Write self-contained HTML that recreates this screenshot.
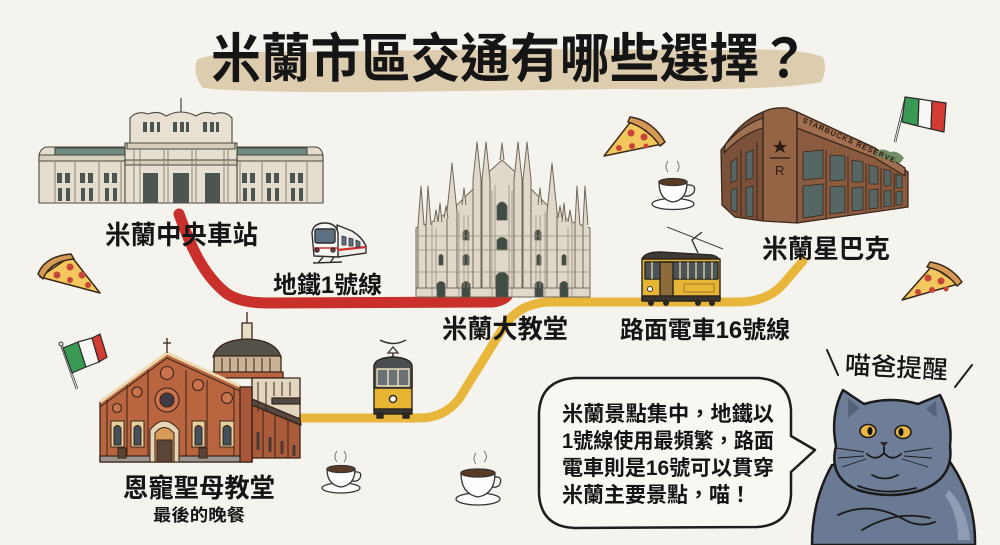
<!DOCTYPE html>
<html><head><meta charset="utf-8">
<style>
html,body{margin:0;padding:0;background:#f5f3ed;width:1000px;height:545px;overflow:hidden}
svg{display:block}
text{font-family:"Liberation Sans","Noto Sans CJK TC",sans-serif;fill:#151515}
</style></head><body>
<svg width="1000" height="545" viewBox="0 0 1000 545" xmlns="http://www.w3.org/2000/svg">
<rect width="1000" height="545" fill="#f5f3ed"/>

<!-- Title brush -->
<path d="M197,60 Q215,50 300,52 L520,49 L740,50 Q800,48 823,57 Q828,70 821,82 Q780,91 620,89 L380,92 Q250,93 203,88 Q192,75 197,60 Z" fill="#dbc8a6" opacity="0.9"/>
<text x="211" y="77" font-size="53" font-weight="700" textLength="598" lengthAdjust="spacingAndGlyphs">米蘭市區交通有哪些選擇？</text>

<!-- Red metro line -->
<path d="M179,214 Q184,228 191,244 Q205,276 226,293 Q240,303 268,303 L492,302 Q502,301 507,296" fill="none" stroke="#c9302b" stroke-width="11" stroke-linecap="round"/>
<!-- Yellow tram line -->
<path d="M302,418 L420,418 Q444,418 459,399 L503,328 Q518,303 550,302 L738,302 Q768,302 784,283 L803,261" fill="none" stroke="#e8b63a" stroke-width="9" stroke-linecap="round"/>

<!-- Central station -->
<g stroke="#4a463e" stroke-width="1.1" stroke-linejoin="round">
  <path d="M39,203 L39,156 Q40,148 47,147 L127,147 L127,203 Z" fill="#e4ddce"/>
  <path d="M237,203 L237,147 L316,147 Q322,148 323,156 L323,203 Z" fill="#e4ddce"/>
  <rect x="55" y="148" width="72" height="7" fill="#6f8c83"/>
  <rect x="237" y="148" width="70" height="7" fill="#6f8c83"/>
  <rect x="39" y="155" width="88" height="6" fill="#d8d0bf"/>
  <rect x="237" y="155" width="86" height="6" fill="#d8d0bf"/>
  <rect x="125" y="143" width="112" height="60" fill="#e7e0d2"/>
  <path d="M130,143 L130,118 Q137,110 148,114 Q158,110 166,116 Q181,108 196,116 Q205,110 214,114 Q225,110 232,118 L232,143 Z" fill="#e8e1d3"/>
  <rect x="127" y="143" width="108" height="6" fill="#d6cdbb"/>
  <rect x="125" y="160" width="112" height="5" fill="#d6cdbb"/>
</g>
<line x1="181" y1="98" x2="181" y2="112" stroke="#4a463e" stroke-width="1.2"/>
<g fill="#4d5552">
  <rect x="143" y="173" width="15" height="30"/><rect x="173" y="173" width="16" height="30"/><rect x="205" y="173" width="15" height="30"/>
  <rect x="143" y="122" width="4" height="10"/><rect x="150" y="122" width="4" height="10"/><rect x="157" y="122" width="3" height="10"/>
  <rect x="173" y="122" width="4" height="10"/><rect x="180" y="122" width="4" height="10"/><rect x="186" y="122" width="3" height="10"/>
  <rect x="203" y="122" width="4" height="10"/><rect x="210" y="122" width="4" height="10"/><rect x="216" y="122" width="3" height="10"/>
  <rect x="57" y="173" width="5" height="10"/><rect x="65" y="173" width="5" height="10"/><rect x="58" y="188" width="4" height="13"/><rect x="66" y="188" width="4" height="13"/>
  <rect x="80" y="173" width="5" height="10"/><rect x="88" y="173" width="5" height="10"/><rect x="81" y="188" width="4" height="13"/><rect x="89" y="188" width="4" height="13"/>
  <rect x="104" y="173" width="5" height="10"/><rect x="112" y="173" width="5" height="10"/><rect x="105" y="188" width="4" height="13"/><rect x="113" y="188" width="4" height="13"/>
  <rect x="242" y="173" width="5" height="10"/><rect x="250" y="173" width="5" height="10"/><rect x="243" y="188" width="4" height="13"/><rect x="251" y="188" width="4" height="13"/>
  <rect x="266" y="173" width="5" height="10"/><rect x="274" y="173" width="5" height="10"/><rect x="267" y="188" width="4" height="13"/><rect x="275" y="188" width="4" height="13"/>
  <rect x="290" y="173" width="5" height="10"/><rect x="298" y="173" width="5" height="10"/><rect x="291" y="188" width="4" height="13"/><rect x="299" y="188" width="4" height="13"/>
</g>
<g stroke="#8a8373" stroke-width="1" fill="none">
  <path d="M134,150 V203 M164,150 V203 M196,150 V203 M228,150 V203 M140,150 V203 M168,150 V203 M192,150 V203 M224,150 V203"/>
  <path d="M55,161 V203 M75,161 V203 M99,161 V203 M121,161 V203 M240,161 V203 M262,161 V203 M286,161 V203 M307,161 V203"/>
</g>

<!-- Metro train -->
<g stroke="#2e2e2e" stroke-width="1.4" stroke-linejoin="round">
  <path d="M337,225 L352,231 Q362,237 366,246 L366,253 L338,257 Z" fill="#f2f1ee"/>
  <path d="M314,256 L312,233 Q313,223 325,223 Q336,223 338,233 L338,257 Z" fill="#f6f6f4"/>
  <rect x="315" y="229" width="20" height="14" rx="2" fill="#5e7182"/>
  <path d="M338,250 L366,247" stroke="#d2302a" stroke-width="2.2"/>
  <path d="M313,248 L338,248" stroke="#d2302a" stroke-width="1.6"/>
  <circle cx="317" cy="250" r="2" fill="#b83030"/><circle cx="333" cy="250" r="2" fill="#b83030"/>
  <path d="M342,236 L346,237 L346,245 L342,245 Z M349,238 L353,239 L353,246 L349,246 Z M356,240 L360,242 L360,247 L356,247 Z" fill="#5e7182" stroke-width="0.8"/>
  <path d="M318,263 L323,257 M330,263 L334,257 M313,263 L342,262" fill="none"/>
</g>

<!-- Pizza left -->
<g stroke="#3a2818" stroke-width="1.5" stroke-linejoin="round">
  <path d="M40,277 L71,256 L100,293 Z" fill="#f1c75e"/>
  <path d="M38,274 Q45,256 71,254 L74,259 Q50,261 43,279 Z" fill="#d59a55"/>
</g>
<g fill="#c8453a"><circle cx="70" cy="267" r="3.5"/><circle cx="57" cy="275" r="3.5"/><circle cx="82" cy="275" r="3.5"/><circle cx="70" cy="280" r="3"/><circle cx="88" cy="285" r="3"/></g>

<!-- Duomo -->
<g stroke="#6f675a" stroke-width="1" stroke-linejoin="round" fill="#e0d8ca">
  <path d="M416,297 L416,228 L432,222 L452,210 L472,190 L480,180 L502,160 L524,180 L532,190 L552,210 L572,222 L590,228 L590,297 Z"/>
  <path d="M418,297 V225 L421,186 L424,225 M426,297 V225 L428,186 L431,225"/>
  <path d="M575,297 V225 L577,186 L580,225 M583,297 V225 L585,186 L588,225"/>
  <path d="M447,297 V212 L452,163 L457,212 V297"/>
  <path d="M547,297 V212 L552,163 L557,212 V297"/>
  <path d="M473,297 V180 L477,142 L481,180 V297 M482,297 V180 L486,142 L490,180 V297"/>
  <path d="M514,297 V180 L518,142 L522,180 V297 M523,297 V180 L527,142 L531,180 V297"/>
  <path d="M500,160 L502,143 L504,160"/>
  <path d="M438,222 L440,203 L442,222 M462,205 L464,188 L466,205 M538,205 L540,188 L542,205 M562,222 L564,203 L566,222"/>
  <path d="M434,222 L436,210 L438,222 M444,218 L446,206 L448,218 M558,218 L560,206 L562,218 M568,222 L570,210 L572,222" />
  <rect x="416" y="288" width="174" height="9"/>
</g>
<g fill="#3f4d45" stroke="#5d574c" stroke-width="0.8">
  <path d="M496,297 V276 Q502,268 508,276 V297 Z"/>
  <path d="M437,297 V284 Q441,279 445,284 V297 Z M462,297 V284 Q466,279 470,284 V297 Z M535,297 V284 Q539,279 543,284 V297 Z M560,297 V284 Q564,279 568,284 V297 Z"/>
  <path d="M497,220 V206 Q502,198 507,206 V220 Z"/>
  <path d="M497,250 V240 Q502,235 507,240 V250 Z"/>
  <path d="M463,240 V232 Q466,228 469,232 V240 Z M535,240 V232 Q538,228 541,232 V240 Z"/>
  <path d="M439,265 V256 Q441,253 443,256 V265 Z M463,265 V256 Q466,253 469,256 V265 Z M537,265 V256 Q539,253 541,256 V265 Z M562,265 V256 Q564,253 566,256 V265 Z"/>
</g>
<g stroke="#978d7d" stroke-width="0.8" fill="none">
  <path d="M416,250 H590 M416,272 H590 M416,236 H590 M432,222 V297 M459,212 V297 M545,212 V297 M572,222 V297 M492,190 V297 M512,190 V297"/>
  <path d="M436,228 V288 M464,215 V288 M468,215 V288 M536,215 V288 M540,215 V288 M568,228 V288 M495,185 V288 M509,185 V288"/>
</g>

<!-- Pizza top -->
<g stroke="#3a2818" stroke-width="1.5" stroke-linejoin="round">
  <path d="M604,156 L632,120 L662,144 Z" fill="#f1c75e"/>
  <path d="M630,117 Q652,120 665,142 L660,146 Q648,128 628,122 Z" fill="#d59a55"/>
</g>
<g fill="#c8453a"><circle cx="631" cy="133" r="3.5"/><circle cx="644" cy="137" r="3.5"/><circle cx="619" cy="148" r="3"/><circle cx="632" cy="146" r="3"/><circle cx="646" cy="146" r="2.5"/></g>

<!-- Coffee top -->
<g stroke="#333" stroke-width="1.3">
  <ellipse cx="673" cy="204" rx="21" ry="5.5" fill="#fdfdfb"/>
  <path d="M659,182 Q659,200 673,202 Q687,200 687,182 Z" fill="#fdfdfb"/>
  <ellipse cx="673" cy="182" rx="14" ry="3.5" fill="#5b3b24"/>
  <path d="M686,185 Q697,184 694,192 Q691,197 684,196" fill="none"/>
</g>
<path d="M668,172 Q664,167 668,161 M677,172 Q681,167 677,161" fill="none" stroke="#777" stroke-width="1"/>

<!-- Starbucks -->
<g stroke="#3a281c" stroke-width="1.3" stroke-linejoin="round">
  <path d="M721,150 L725,145 Q742,120 763,112 L763,221 L735,217 L722,205 Z" fill="#7c5139"/>
  <path d="M763,112 Q772,107 787,108 L797,112 L797,223 L763,221 Z" fill="#946445"/>
  <path d="M797,112 L875,148 L908,172 L908,207 L797,223 Z" fill="#8a5b3e"/>
  <path d="M797,112 L875,148 L905,168 L905,176 L875,158 L797,128 Z" fill="#a17050"/>
  <path d="M725,145 Q742,125 763,118 L763,128 Q742,134 724,153 Z" fill="#a17050"/>
</g>
<path d="M876,152 Q882,147 890,152 Q898,150 904,158 L900,163 L876,156 Z" fill="#6f8f66"/>
<text x="802" y="122" font-size="7.5" font-weight="700" transform="rotate(24 802 122)" style="fill:#2e1e13" letter-spacing="1">STARBUCKS RESERVE</text>
<g fill="#566664" stroke="#3a281c" stroke-width="0.8">
  <path d="M803,152 L823,150 L823,178 L803,180 Z"/><path d="M803,186 L823,184 L823,215 L803,218 Z"/>
  <path d="M830,155 L845,156 L845,180 L830,181 Z"/><path d="M830,187 L845,186 L845,212 L830,214 Z"/>
  <path d="M852,160 L863,162 L863,182 L852,182 Z"/><path d="M852,188 L863,187 L863,210 L852,211 Z"/>
  <path d="M869,165 L878,167 L878,184 L869,184 Z"/><path d="M869,190 L878,189 L878,208 L869,209 Z"/>
  <path d="M884,169 L891,171 L891,186 L884,186 Z"/><path d="M884,191 L891,190 L891,206 L884,207 Z"/>
  <path d="M896,174 L902,176 L902,188 L896,188 Z"/><path d="M896,192 L902,191 L902,205 L896,205 Z"/>
  <path d="M731,162 L737,158 L737,180 L731,183 Z"/><path d="M731,190 L737,188 L737,212 L731,210 Z"/>
  <path d="M746,153 L753,150 L753,178 L746,180 Z"/><path d="M746,188 L753,186 L753,217 L746,216 Z"/>
</g>
<g stroke="#3a281c" stroke-width="1" fill="none"><path d="M826,150 V220 M848,156 V214 M866,163 V211 M881,168 V209 M894,173 V207 M741,150 V218 M757,142 V220"/></g>
<path d="M780,140 L782,145 L787,145 L783,148 L785,153 L780,150 L775,153 L777,148 L773,145 L778,145 Z" fill="#2b1d14"/>
<line x1="770" y1="158" x2="790" y2="158" stroke="#2b1d14" stroke-width="1.2"/>
<text x="775" y="175" font-size="13" style="fill:#2b1d14">R</text>

<!-- Top-right flag -->
<line x1="895" y1="142" x2="906" y2="97" stroke="#333" stroke-width="2.5"/>
<line x1="895" y1="142" x2="906" y2="97" stroke="#f2f2f2" stroke-width="1"/>
<g stroke="#2a2a2a" stroke-width="1.2" stroke-linejoin="round">
  <path d="M905,97 L919,99 L918,126 L902,122 Z" fill="#3a9a54"/>
  <path d="M919,99 L932,101 L931,129 L918,126 Z" fill="#f7f7f5"/>
  <path d="M932,101 L946,103 L944,132 L931,129 Z" fill="#d33b33"/>
</g>

<!-- Pizza right -->
<g stroke="#3a2818" stroke-width="1.5" stroke-linejoin="round">
  <path d="M902,300 L932,266 L958,284 Z" fill="#f1c75e"/>
  <path d="M930,262 Q950,265 962,282 L957,286 Q946,271 927,267 Z" fill="#d59a55"/>
</g>
<g fill="#c8453a"><circle cx="928" cy="278" r="3.5"/><circle cx="941" cy="281" r="3.5"/><circle cx="918" cy="292" r="3"/><circle cx="932" cy="290" r="3"/><circle cx="946" cy="289" r="2.5"/></g>

<!-- Tram side -->
<line x1="667" y1="227" x2="723" y2="249" stroke="#444" stroke-width="1"/>
<path d="M698,253 L692,240 L702,232" fill="none" stroke="#333" stroke-width="1.4"/>
<g stroke="#2b2620" stroke-width="1.4" stroke-linejoin="round">
  <path d="M642,259 Q645,252 660,252 L712,255 Q720,257 720,262 Z" fill="#3e3a35"/>
  <rect x="642" y="259" width="78" height="40" fill="#e6b534"/>
  <rect x="645" y="262" width="73" height="17" fill="#4d5457"/>
  <rect x="660" y="262" width="13" height="35" fill="#8d6b3b"/>
  <rect x="642" y="296" width="78" height="5" fill="#3a342c"/>
</g>
<g stroke="#e6d7a8" stroke-width="1.3"><path d="M652,262 V279 M680,262 V279 M688,262 V279 M696,262 V279 M704,262 V279 M712,262 V279"/></g>
<circle cx="650" cy="289" r="2.5" fill="#fff" stroke="#333"/>
<rect x="684" y="284" width="30" height="8" fill="none" stroke="#a07c2a"/>
<g fill="#2b2620"><circle cx="651" cy="303" r="3"/><circle cx="666" cy="303" r="3"/><circle cx="698" cy="303" r="3"/><circle cx="712" cy="303" r="3"/></g>

<!-- Church -->
<g stroke="#3a2419" stroke-width="1.3" stroke-linejoin="round">
  <line x1="247" y1="312" x2="247" y2="324"/>
  <rect x="242" y="323" width="10" height="19" fill="#e9dfc9"/>
  <path d="M213,357 Q218,340 247,339 Q276,340 281,357 Z" fill="#55524b"/>
  <rect x="214" y="356" width="67" height="17" fill="#c8b395"/>
  <rect x="212" y="372" width="71" height="6" fill="#b7643f"/>
  <rect x="252" y="378" width="48" height="40" fill="#e3d6be"/>
  <path d="M272,398 L300,398 L300,404 L272,404 Z" fill="#4f4a44"/>
  <path d="M252,405 L300,425 L300,458 L252,458 Z" fill="#ab5b3a"/>
  <path d="M252,399 L300,419 L301,425 L252,405 Z" fill="#584a40"/>
  <path d="M100,462 L100,402 L167,353 L242,387 L252,387 L252,462 Z" fill="#b9653f"/>
  <path d="M100,402 L167,353 L242,387" fill="none" stroke="#edd9b0" stroke-width="3"/>
  <path d="M100,407 L167,358 L242,392" fill="none" stroke-width="1"/>
  <line x1="167" y1="338" x2="167" y2="353"/><line x1="163" y1="343" x2="171" y2="343"/>
  <rect x="100" y="456" width="152" height="6" fill="#9a9590"/>
  <rect x="240" y="387" width="12" height="75" fill="#a9573a"/>
</g>
<g stroke="#3a2419" stroke-width="1" fill="none">
  <path d="M107,400 V456 M127,385 V456 M148,370 V456 M186,370 V456 M207,380 V456 M234,388 V456"/>
  <path d="M263,410 V458 M275,415 V458 M288,420 V458"/>
  <path d="M222,358 V372 M230,358 V372 M238,358 V372 M246,358 V372 M254,358 V372 M262,358 V372 M270,358 V372"/>
  <path d="M258,382 V412 M266,382 V412 M274,382 V396 M282,382 V396 M290,382 V396"/>
</g>
<g stroke="#3a2419" stroke-width="1.1">
  <circle cx="167" cy="400" r="12" fill="#c9744c"/><circle cx="167" cy="400" r="7" fill="#3f3b45"/>
  <circle cx="167" cy="373" r="6.5" fill="#c9744c"/><circle cx="198" cy="385" r="5.5" fill="#c9744c"/>
  <circle cx="227" cy="398" r="5.5" fill="#c9744c"/><circle cx="137" cy="392" r="5" fill="#c9744c"/>
  <circle cx="117" cy="408" r="4.5" fill="#c9744c"/>
</g>
<g stroke="#3a2419" stroke-width="1">
  <rect x="111" y="421" width="13" height="26" fill="#e6cf9e"/><path d="M114,445 V428 Q117.5,423 121,428 V445 Z" fill="#44515c"/>
  <rect x="131" y="421" width="13" height="26" fill="#e6cf9e"/><path d="M134,445 V428 Q137.5,423 141,428 V445 Z" fill="#44515c"/>
  <rect x="192" y="421" width="13" height="26" fill="#e6cf9e"/><path d="M195,445 V428 Q198.5,423 202,428 V445 Z" fill="#44515c"/>
  <rect x="220" y="421" width="14" height="26" fill="#e6cf9e"/><path d="M223,445 V428 Q227,423 231,428 V445 Z" fill="#44515c"/>
  <path d="M150,462 V430 Q164,412 179,430 V462 Z" fill="#e6d6b6"/>
  <path d="M155,462 V433 Q164,422 174,433 V462 Z" fill="#d79a58"/>
  <rect x="157" y="440" width="15" height="22" fill="#5a4536"/>
  <rect x="118" y="448" width="8" height="10" fill="#5a4536"/><rect x="199" y="448" width="8" height="10" fill="#5a4536"/>
  <path d="M258,432 V450 M270,437 V452 M282,441 V454 M294,445 V456" stroke="#4b3a33" stroke-width="3"/>
</g>

<!-- Left flag -->
<line x1="61" y1="344" x2="77" y2="389" stroke="#333" stroke-width="2.5"/>
<line x1="61" y1="344" x2="77" y2="389" stroke="#f2f2f2" stroke-width="1"/>
<circle cx="61" cy="344" r="2" fill="#eee" stroke="#333"/>
<g stroke="#2a2a2a" stroke-width="1.2" stroke-linejoin="round">
  <path d="M63,348 L78,342 L86,367 L72,373 Z" fill="#3a9a54"/>
  <path d="M78,342 L92,338 L99,362 L86,367 Z" fill="#f7f7f5"/>
  <path d="M92,338 L100,334 L107,357 L99,362 Z" fill="#d33b33"/>
</g>

<!-- Tram front -->
<path d="M380,340 Q393,347 406,340" fill="none" stroke="#333" stroke-width="1.5"/>
<path d="M393,347 L388,353 L398,353 Z" fill="none" stroke="#333" stroke-width="1.3"/>
<line x1="393" y1="353" x2="393" y2="358" stroke="#333" stroke-width="1.5"/>
<g stroke="#2b2620" stroke-width="1.4" stroke-linejoin="round">
  <path d="M374,366 Q375,358 393,357 Q411,358 412,366 L412,410 L374,410 Z" fill="#e6b534"/>
  <path d="M374,366 Q375,358 393,357 Q411,358 412,366 L412,388 L374,388 Z" fill="#4a4e50"/>
  <rect x="377" y="369" width="32" height="17" fill="#6a7275" stroke="#efe3bf"/>
  <line x1="388" y1="369" x2="388" y2="386" stroke="#efe3bf"/><line x1="398" y1="369" x2="398" y2="386" stroke="#efe3bf"/>
  <circle cx="393" cy="399" r="3.5" fill="#fff"/>
  <rect x="374" y="409" width="38" height="5" fill="#3a342c"/>
  <rect x="377" y="413" width="6" height="5" fill="#2b2620"/><rect x="403" y="413" width="6" height="5" fill="#2b2620"/>
</g>

<!-- Coffees bottom -->
<g stroke="#333" stroke-width="1.3">
  <ellipse cx="341" cy="488" rx="19" ry="5" fill="#fdfdfb"/>
  <path d="M327,469 Q327,485 341,487 Q355,485 355,469 Z" fill="#fdfdfb"/>
  <ellipse cx="341" cy="469" rx="14" ry="3.5" fill="#5b3b24"/>
  <path d="M354,472 Q363,471 360,478 Q358,482 352,481" fill="none"/>
  <ellipse cx="478" cy="499" rx="22" ry="6" fill="#fdfdfb"/>
  <path d="M461,473 Q461,494 478,497 Q495,494 495,473 Z" fill="#fdfdfb"/>
  <ellipse cx="478" cy="473" rx="17" ry="4" fill="#5b3b24"/>
  <path d="M494,477 Q503,476 500,484 Q498,488 492,487" fill="none"/>
</g>
<path d="M337,462 Q333,457 337,451 M344,462 Q348,457 344,451 M476,464 Q472,459 476,453 M484,462 Q489,457 484,451" fill="none" stroke="#777" stroke-width="1"/>

<!-- Labels -->
<text x="105" y="244" font-size="26" font-weight="700" textLength="153" lengthAdjust="spacingAndGlyphs">米蘭中央車站</text>
<text x="273" y="293" font-size="24" font-weight="700" textLength="109" lengthAdjust="spacingAndGlyphs">地鐵1號線</text>
<text x="442" y="338" font-size="26" font-weight="700" textLength="126" lengthAdjust="spacingAndGlyphs">米蘭大教堂</text>
<text x="620" y="338" font-size="24" font-weight="700" textLength="170" lengthAdjust="spacingAndGlyphs">路面電車16號線</text>
<text x="762" y="258" font-size="26" font-weight="700" textLength="128" lengthAdjust="spacingAndGlyphs">米蘭星巴克</text>
<text x="123" y="497" font-size="26" font-weight="700" textLength="152" lengthAdjust="spacingAndGlyphs">恩寵聖母教堂</text>
<text x="153" y="521" font-size="17" font-weight="700" textLength="92" lengthAdjust="spacingAndGlyphs">最後的晚餐</text>

<!-- Speech bubble -->
<path d="M575,378 Q541,380 539,412 L539,494 Q541,527 575,528 L757,527 Q790,525 791,494 L791,472 L815,450 L791,436 L791,410 Q789,379 757,378 Z" fill="#f9f7f2" stroke="#1e1e1e" stroke-width="2.5" stroke-linejoin="round"/>
<g font-size="21" font-weight="700">
  <text x="562" y="421" textLength="212" lengthAdjust="spacingAndGlyphs">米蘭景點集中，地鐵以</text>
  <text x="562" y="448" textLength="212" lengthAdjust="spacingAndGlyphs">1號線使用最頻繁，路面</text>
  <text x="562" y="475" textLength="212" lengthAdjust="spacingAndGlyphs">電車則是16號可以貫穿</text>
  <text x="562" y="502">米蘭主要景點，喵！</text>
</g>

<!-- Cat title -->
<path d="M827,350 L838,375 M972,365 L955,387" stroke="#1e1e1e" stroke-width="2" stroke-linecap="round"/>
<text x="845" y="376" font-size="25" font-weight="500" textLength="103" lengthAdjust="spacingAndGlyphs" transform="rotate(3 896 365)">喵爸提醒</text>

<!-- Cat -->
<g stroke="#1b1b1b" stroke-width="2.5" stroke-linejoin="round">
  <path d="M832,465 Q812,500 812,545 L975,545 Q976,500 950,462 Z" fill="#6b7a94"/>
  <path d="M836,446 Q830,415 843,390 L864,404 Q891,396 918,404 L940,395 Q953,420 950,446 Q954,478 922,490 Q890,500 858,490 Q828,478 836,446 Z" fill="#6f7e98"/>
</g>
<path d="M949,490 Q968,510 970,540 L958,540 Q958,512 945,496 Z" fill="#98a5bb" opacity="0.8"/>
<path d="M848,398 L860,408 L848,418 Z M936,401 L926,409 L937,418 Z" fill="#55627a"/>
<g stroke="#1b1b1b" stroke-width="1.6">
  <ellipse cx="868" cy="431" rx="8" ry="6.5" fill="#e9b540"/>
  <ellipse cx="903" cy="432" rx="8" ry="6.5" fill="#e9b540"/>
</g>
<ellipse cx="870" cy="431" rx="2.5" ry="4" fill="#111"/>
<ellipse cx="901" cy="432" rx="2.5" ry="4" fill="#111"/>
<path d="M880,442 L888,442 L884,447 Z" fill="#2a2a2a"/>
<g stroke="#1b1b1b" stroke-width="1.8" fill="none" stroke-linecap="round">
  <path d="M884,447 L884,453 Q876,462 867,454 M884,453 Q892,462 901,454"/>
  <path d="M872,475 Q885,482 898,475"/>
  <path d="M858,486 Q885,496 916,488"/>
  <path d="M838,515 Q870,500 905,520 Q920,528 935,522"/>
  <path d="M862,530 Q895,510 930,518"/>
</g>
<g stroke="#1b1b1b" stroke-width="0.9" fill="none">
  <path d="M864,452 L836,448 M864,456 L838,458 M866,459 L842,467 M904,452 L932,448 M904,456 L932,458 M902,459 L928,467"/>
</g>
</svg>
</body></html>
